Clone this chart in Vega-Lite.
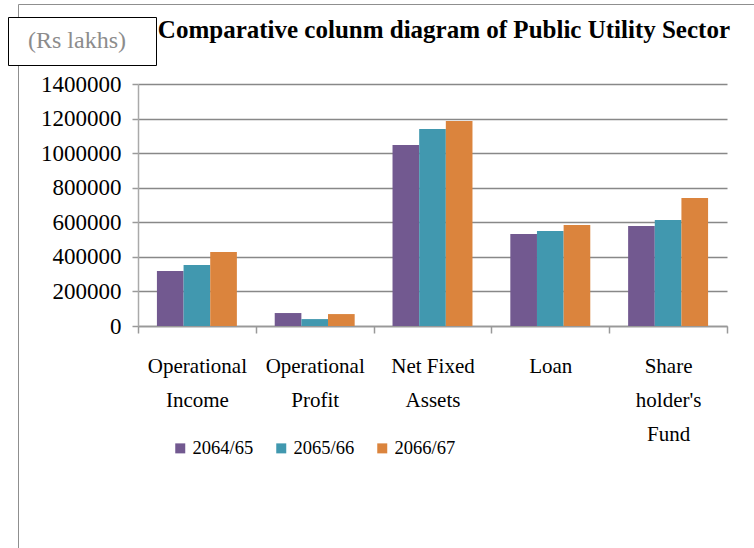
{
  "$schema": "https://vega.github.io/schema/vega-lite/v6.json",
  "width": 589,
  "height": 242,
  "autosize": {"type": "none"},
  "padding": {"left": 138, "top": 84, "right": 27, "bottom": 222},
  "background": "white",
  "config": {"view": {"stroke": null}, "font": "'Times New Roman', 'Liberation Serif', serif"},
  "title": {
    "text": "Comparative colunm diagram of Public Utility Sector",
    "font": "'Times New Roman', 'Liberation Serif', serif",
    "fontSize": 25,
    "fontWeight": "bold",
    "color": "black",
    "anchor": "end",
    "frame": "group",
    "baseline": "alphabetic",
    "dx": 3,
    "dy": 79,
    "offset": 20
  },
  "data": {
    "values": [
      {"category": "Operational Income", "year": "2064/65", "value": 318000},
      {"category": "Operational Income", "year": "2065/66", "value": 353000},
      {"category": "Operational Income", "year": "2066/67", "value": 428000},
      {"category": "Operational Profit", "year": "2064/65", "value": 75000},
      {"category": "Operational Profit", "year": "2065/66", "value": 40000},
      {"category": "Operational Profit", "year": "2066/67", "value": 69000},
      {"category": "Net Fixed Assets", "year": "2064/65", "value": 1047000},
      {"category": "Net Fixed Assets", "year": "2065/66", "value": 1140000},
      {"category": "Net Fixed Assets", "year": "2066/67", "value": 1186000},
      {"category": "Loan", "year": "2064/65", "value": 532000},
      {"category": "Loan", "year": "2065/66", "value": 550000},
      {"category": "Loan", "year": "2066/67", "value": 584000},
      {"category": "Share holder's Fund", "year": "2064/65", "value": 578000},
      {"category": "Share holder's Fund", "year": "2065/66", "value": 613000},
      {"category": "Share holder's Fund", "year": "2066/67", "value": 740000}
    ]
  },
  "layer": [
    {
      "mark": {"type": "bar"},
      "encoding": {
        "x": {
          "field": "category",
          "type": "nominal",
          "sort": null,
          "scale": {"paddingInner": 0, "paddingOuter": 0},
          "axis": {
            "title": null,
            "labelAngle": 0,
            "labelExpr": "datum.value == 'Operational Income' ? ['Operational','Income'] : datum.value == 'Operational Profit' ? ['Operational','Profit'] : datum.value == 'Net Fixed Assets' ? ['Net Fixed','Assets'] : datum.value == \"Share holder's Fund\" ? ['Share', \"holder's\", 'Fund'] : datum.label",
            "labelFont": "'Times New Roman', 'Liberation Serif', serif",
            "labelFontSize": 21,
            "labelLineHeight": 34,
            "labelPadding": 22,
            "labelColor": "black",
            "labelOverlap": false,
            "labelBound": false,
            "tickBand": "extent",
            "tickSize": 7,
            "tickColor": "#999999",
            "tickWidth": 1.5,
            "domainColor": "#999999",
            "domainWidth": 1.5
          }
        },
        "xOffset": {
          "field": "year",
          "type": "nominal",
          "scale": {"paddingInner": 0, "paddingOuter": 0.71}
        },
        "y": {
          "field": "value",
          "type": "quantitative",
          "scale": {"domain": [0, 1400000], "nice": false},
          "axis": {
            "title": null,
            "values": [0, 200000, 400000, 600000, 800000, 1000000, 1200000, 1400000],
            "format": "d",
            "labelFont": "'Times New Roman', 'Liberation Serif', serif",
            "labelFontSize": 23,
            "labelColor": "black",
            "labelPadding": 11,
            "tickSize": 6,
            "tickColor": "#999999",
            "tickWidth": 1.5,
            "domainColor": "#aaaaaa",
            "domainWidth": 1.5,
            "gridColor": "#888888",
            "gridWidth": 1.5
          }
        },
        "color": {
          "field": "year",
          "type": "nominal",
          "scale": {"range": ["#725990", "#4198AF", "#DB843D"]},
          "legend": {
            "title": null,
            "orient": "none",
            "legendX": 33,
            "legendY": 355,
            "direction": "horizontal",
            "padding": 0,
            "symbolType": "square",
            "symbolSize": 100,
            "symbolStrokeWidth": 0,
            "labelFont": "'Times New Roman', 'Liberation Serif', serif",
            "labelFontSize": 18.5,
            "labelColor": "black",
            "labelOffset": 3,
            "columnPadding": 18
          }
        }
      }
    },
    {
      "mark": {"type": "point", "opacity": 0},
      "encoding": {
        "size": {
          "datum": "frame",
          "scale": {"range": [0, 0]},
          "legend": {
            "title": null,
            "orient": "none",
            "legendX": -120,
            "legendY": -80,
            "padding": 400,
            "zindex": 0,
            "strokeColor": "#8f8f8f",
            "symbolOpacity": 0,
            "symbolStrokeWidth": 0,
            "labelExpr": "''",
            "encode": {"legend": {"update": {"strokeWidth": {"value": 1.5}}}}
          }
        },
        "shape": {
          "datum": "(Rs lakhs)",
          "legend": {
            "title": null,
            "orient": "none",
            "legendX": -130,
            "legendY": -67,
            "padding": 12,
            "zindex": 2,
            "strokeColor": "black",
            "fillColor": "white",
            "symbolSize": 0,
            "symbolOpacity": 0,
            "symbolStrokeWidth": 0,
            "labelOffset": -16,
            "labelFont": "'Times New Roman', 'Liberation Serif', serif",
            "labelFontSize": 24,
            "labelColor": "#8c8c8c",
            "labelExpr": "datum.label + '\u2800'",
            "encode": {"legend": {"update": {"strokeWidth": {"value": 2}}}}
          }
        }
      }
    }
  ]
}
